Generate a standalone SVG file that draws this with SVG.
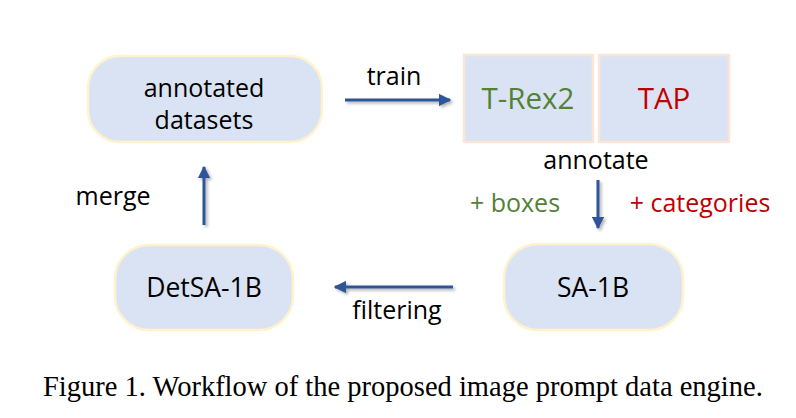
<svg xmlns="http://www.w3.org/2000/svg" width="796" height="418" viewBox="0 0 796 418">
<style>
.pill{fill:#dae3f3;stroke:#fff2cc;stroke-width:2.5}
.sq{fill:#dae3f3;stroke:#fbe5d6;stroke-width:2.5}
.t{font-family:"Open Sans","Noto Sans","DejaVu Sans",sans-serif;font-size:25px;fill:#000;text-anchor:middle}
.big{font-size:29.5px}
.mid{font-size:26.5px}
.g{fill:#538135}
.r{fill:#c00000}
.cap{font-family:"Liberation Serif","Times New Roman",serif;font-size:28.5px;fill:#000}
.arr{stroke:#2f5597;stroke-width:3;fill:none;marker-end:url(#ah);filter:url(#sh)}
</style>
<defs>
<marker id="ah" viewBox="0 0 10 10" refX="9" refY="5" markerWidth="4.2" markerHeight="4.2" orient="auto" markerUnits="strokeWidth">
<path d="M0,0 L10,5 L0,10 z" fill="#2f5597"/>
</marker>
<filter id="sh" filterUnits="userSpaceOnUse" x="0" y="0" width="796" height="418">
<feDropShadow dx="2" dy="2" stdDeviation="1.5" flood-color="#000" flood-opacity="0.3"/>
</filter>
</defs>
<rect width="796" height="418" fill="#fff"/>
<g id="annotated-datasets">
<rect class="pill" x="88" y="56" width="234" height="86" rx="32"/>
<text class="t" x="204" y="97">annotated</text>
<text class="t" x="204" y="129">datasets</text>
</g>
<g id="trex2">
<rect class="sq" x="464" y="55" width="129" height="87"/>
<text class="t big g" x="528" y="109">T-Rex2</text>
</g>
<g id="tap">
<rect class="sq" x="599" y="55" width="130" height="87"/>
<text class="t big r" x="664" y="109">TAP</text>
</g>
<g id="sa1b">
<rect class="pill" x="504" y="244" width="179" height="86" rx="34"/>
<text class="t mid" x="593" y="297">SA-1B</text>
</g>
<g id="detsa1b">
<rect class="pill" x="115" y="245" width="178" height="85" rx="34"/>
<text class="t mid" x="204" y="297">DetSA-1B</text>
</g>
<g id="connectors">
<line class="arr" x1="345" y1="100" x2="450" y2="100"/>
<line class="arr" x1="598" y1="180" x2="598" y2="228"/>
<line class="arr" x1="453" y1="287" x2="335" y2="287"/>
<line class="arr" x1="204" y1="225" x2="204" y2="167"/>
<text class="t" x="394" y="85">train</text>
<text class="t" x="596" y="169">annotate</text>
<text class="t g" x="515" y="212">+ boxes</text>
<text class="t r" x="700" y="212">+ categories</text>
<text class="t" x="397" y="319">filtering</text>
<text class="t" x="113" y="205">merge</text>
</g>
<text class="cap" x="43" y="396">Figure 1. Workflow of the proposed image prompt data engine.</text>
</svg>
